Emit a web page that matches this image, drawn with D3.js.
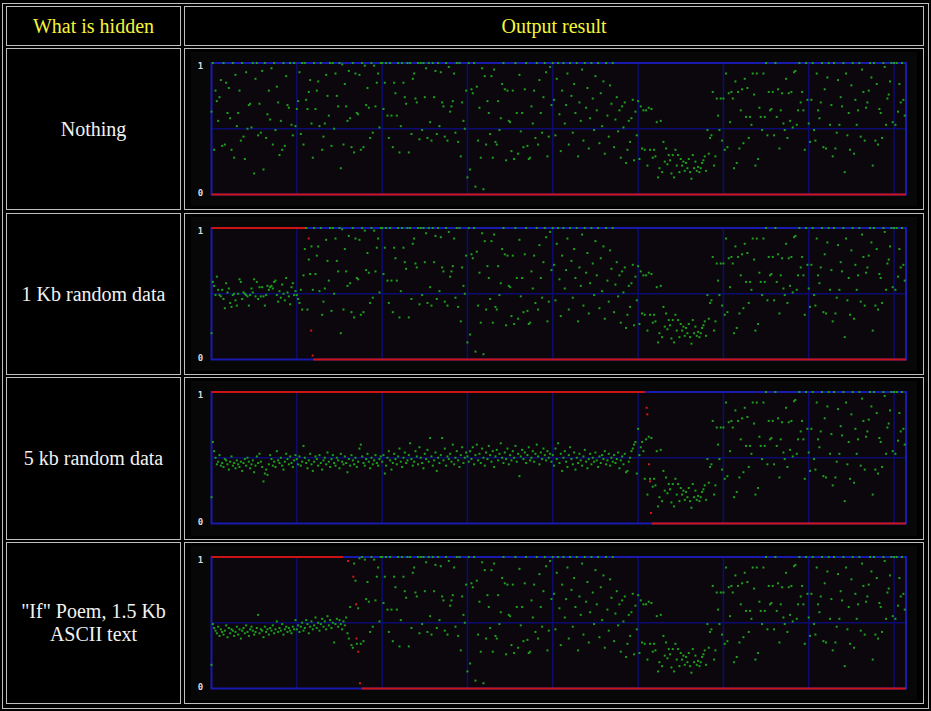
<!DOCTYPE html>
<html>
<head>
<meta charset="utf-8">
<script src="https://cdn.jsdelivr.net/npm/d3@7"></script>
<style>
  html, body { margin: 0; padding: 0; background: #000; }
  svg { display: block; }
</style>
</head>
<body>
<svg id="chart" width="931" height="711"></svg>
<script>
// table text
const headers = ["What is hidden", "Output result"];
const rowLabels = [["Nothing"], ["1 Kb random data"], ["5 kb random data"], ["\"If\" Poem, 1.5 Kb", "ASCII text"]];

// green dots: average LSB per 16-byte block (in %), 64 blocks per Kb
const dotsPerKb = 64;
const kbMax = 8.14;
const yTicks = [0, 1];

// the unmodified cover image (row "Nothing")
const coverLsb = [
  63,100,34,79,71,56,74,87,37,100,38,85,62,81,58,34,100,28,91,52,62,79,41,100,44,27,93,50,68,69,51,100,16,88,100,45,69,47,94,19,100,43,61,79,57,96,38,100,49,82,70,30,56,34,100,37,90,68,66,100,53,45,100,52,
  65,71,93,46,100,38,100,72,65,78,87,54,28,100,65,79,86,52,100,34,44,54,91,75,60,100,37,100,50,92,75,67,100,20,99,38,84,67,56,94,58,36,100,32,92,62,61,91,34,100,36,98,68,81,66,43,100,47,98,67,85,92,51,100,
  100,65,85,100,60,43,100,60,36,85,77,60,100,32,52,100,85,74,69,100,32,100,46,88,92,73,70,100,42,100,49,100,74,96,43,100,55,41,100,74,94,46,100,52,93,70,67,44,100,41,97,63,67,71,92,47,100,40,100,29,70,56,50,79,
  13,100,19,80,77,100,6,82,41,66,28,96,4,90,38,71,62,46,90,28,95,40,38,71,49,58,84,100,80,26,79,56,55,33,79,27,100,62,31,91,48,62,36,80,100,37,27,28,67,54,79,43,100,38,87,62,47,74,100,93,29,44,97,68,
  100,72,45,88,100,61,33,79,100,54,68,92,38,100,75,47,84,62,100,29,70,56,95,41,100,66,81,35,58,100,73,49,90,64,100,39,77,52,86,31,100,60,44,83,69,100,36,57,74,48,64,28,67,51,70,24,34,56,40,58,72,26,63,45,
  71,27,67,35,64,34,64,22,66,34,65,28,34,29,55,13,20,56,17,40,25,35,23,30,26,16,30,13,34,22,30,17,27,22,25,18,24,20,27,17,12,30,20,25,18,21,17,20,24,26,29,18,49,31,43,45,78,22,29,73,60,49,73,41,
  73,34,92,36,77,55,78,73,20,86,24,78,35,64,80,39,88,59,81,43,59,53,92,76,22,92,27,66,59,49,92,59,100,45,78,64,65,78,45,100,59,80,35,64,77,54,49,88,43,77,56,78,51,93,94,53,64,100,70,78,64,34,100,72,
  54,40,72,100,49,41,92,64,58,70,100,36,80,35,89,100,53,68,29,100,35,47,87,53,74,67,100,17,92,45,62,34,83,100,31,72,53,64,100,44,95,78,41,66,70,79,100,89,22,100,41,84,38,65,62,43,100,97,53,73,76,86,100,55,
  100,53,100,63,84,70,100,72,60
];

// start of the file after hiding data (rest of the file equals the cover)
const hidden1Kb = [
  20,59,56,49,63,53,49,48,53,46,39,58,51,54,43,40,49,50,45,41,50,61,59,46,51,50,49,48,41,49,54,51,61,48,59,46,55,48,55,48,41,49,56,53,55,56,54,59,60,49,44,52,47,57,50,45,62,51,48,42,55,58,49,52,
  49,46,43,53,38,64,84,100,38,76,65,86,53
];
const hidden5Kb = [
  20,62,55,50,45,47,52,44,46,43,49,48,45,41,47,51,44,46,42,48,45,43,47,40,46,49,44,50,47,42,45,48,39,44,51,46,53,47,43,32,38,41,37,45,52,49,44,47,43,55,48,46,50,44,41,47,53,49,45,51,46,43,48,52,
  49,45,51,44,47,59,50,46,42,48,53,45,40,47,51,49,44,52,46,41,48,50,45,54,47,43,49,52,46,44,50,48,42,53,47,45,51,46,39,49,44,52,48,45,50,43,47,57,60,51,46,44,49,53,47,42,50,45,48,52,46,44,49,51,
  47,52,38,44,50,55,48,41,46,53,49,45,51,57,47,43,50,54,46,48,52,61,49,44,47,55,51,45,58,50,46,42,53,49,56,47,65,51,44,48,54,40,50,46,52,65,48,57,44,51,49,53,47,60,45,50,55,48,43,52,58,46,50,54,
  51,47,55,49,58,45,52,60,48,53,46,57,50,44,54,49,59,52,47,55,43,51,56,48,53,61,50,46,54,49,57,45,52,48,55,50,59,47,53,36,51,56,49,54,46,52,58,48,50,55,47,53,60,51,45,54,49,57,52,48,55,50,53,47,
  52,44,57,49,61,46,53,40,50,55,47,43,52,58,49,45,54,41,50,46,53,48,44,51,56,47,42,49,53,45,50,47,54,48,43,51,46,52,49,55,45,48,53,44,50,47,52,46,49,54,42,48,51,45,53,39,40,47,50,55,57,60,62,38,
  72,52,58,62,55
];
const hiddenPoem = [
  18,49,46,44,42,47,40,45,43,41,44,48,39,46,42,45,44,40,43,47,41,45,38,44,46,42,48,43,40,45,47,44,41,43,46,56,42,45,44,39,47,43,45,41,46,44,48,42,45,51,43,46,44,49,41,45,47,43,46,44,42,47,45,52,
  45,48,43,47,50,44,46,52,49,42,47,51,45,48,54,46,50,44,49,53,47,51,45,55,48,52,46,50,35,49,53,47,52,49,45,51,48,54,42,38,62,33,31,95,82,34,61,99
];
const hiddenSets = [[], hidden1Kb, hidden5Kb, hiddenPoem];

// red curve: probability of embedding (1 until redOneUntil Kb, 0 from redZeroFrom Kb)
const redOneUntil = [0, 1.125, 5.08, 1.545];
const redZeroFrom = [0, 1.193, 5.16, 1.76];
const redDrops = [
  [],
  [[1.14, 0.92], [1.155, 0.65], [1.168, 0.22], [1.186, 0.03]],
  [[5.10, 0.88], [5.108, 0.83], [5.128, 0.45], [5.14, 0.32], [5.151, 0.08]],
  [[1.60, 0.97], [1.662, 0.85], [1.694, 0.64], [1.70, 0.38], [1.72, 0.28], [1.74, 0.04]]
];

// layout (table borders)
const W = 931, H = 711;
const colEdges = [[6, 180], [184, 923]];
const rowEdges = [[6, 45], [48, 209], [213, 374], [377, 539], [542, 703]];
const borderCol = "#bebebe";
const serif = "'Liberation Serif', 'Times New Roman', serif";

const svg = d3.select("#chart");
svg.append("rect").attr("width", W).attr("height", H).attr("fill", "#000");

// outer table border
svg.append("rect")
    .attr("x", 2.5).attr("y", 3.5)
    .attr("width", 926).attr("height", 705)
    .attr("fill", "none").attr("stroke", borderCol);

// cells
rowEdges.forEach(function(r) {
    colEdges.forEach(function(c) {
        svg.append("rect")
            .attr("x", c[0] + 0.5).attr("y", r[0] + 0.5)
            .attr("width", c[1] - c[0]).attr("height", r[1] - r[0])
            .attr("fill", "none").attr("stroke", borderCol);
    });
});

const colCenter = colEdges.map(c => (c[0] + c[1]) / 2);

// header row
headers.forEach(function(h, i) {
    svg.append("text")
        .attr("x", colCenter[i] + 0.5)
        .attr("y", (rowEdges[0][0] + rowEdges[0][1]) / 2 + 7)
        .attr("text-anchor", "middle")
        .style("font-family", serif)
        .style("font-size", "20px")
        .attr("fill", "#f6f63a")
        .text(h);
});

// row labels
rowLabels.forEach(function(lines, i) {
    var r = rowEdges[i + 1];
    var mid = (r[0] + r[1]) / 2;
    lines.forEach(function(t, k) {
        svg.append("text")
            .attr("x", colCenter[0] + 0.5)
            .attr("y", mid + 7 + (k - (lines.length - 1) / 2) * 23.4)
            .attr("text-anchor", "middle")
            .style("font-family", serif)
            .style("font-size", "20px")
            .attr("fill", "#f2f2f2")
            .text(t);
    });
});

// x scale shared by all charts (Kb of file)
const x = d3.scaleLinear().domain([0, kbMax]).range([211.5, 906]);
const gridKb = d3.range(1, Math.floor(kbMax) + 1);

rowLabels.forEach(function(_, i) {
    var r = rowEdges[i + 1];
    var top = r[0] + 15, bottom = r[0] + 146.5;
    var y = d3.scaleLinear().domain([0, 1]).range([bottom, top]);
    var g = svg.append("g");

    // picture background
    g.append("rect")
        .attr("x", 191).attr("y", r[0] + 4)
        .attr("width", 726).attr("height", r[1] - r[0] - 7)
        .attr("fill", "#070707");
    g.append("rect")
        .attr("x", x(0)).attr("y", top)
        .attr("width", x(kbMax) - x(0)).attr("height", bottom - top)
        .attr("fill", "#0b070c");

    // grid
    g.selectAll(".vgrid").data(gridKb).enter().append("line")
        .attr("x1", d => x(d)).attr("x2", d => x(d))
        .attr("y1", top).attr("y2", bottom)
        .attr("stroke", "#0c0c70").attr("stroke-width", 1.5);
    g.append("line")
        .attr("x1", x(0)).attr("x2", x(kbMax))
        .attr("y1", y(0.5)).attr("y2", y(0.5))
        .attr("stroke", "#0c0c70").attr("stroke-width", 1.5);

    // frame
    g.append("rect")
        .attr("x", x(0)).attr("y", top)
        .attr("width", x(kbMax) - x(0)).attr("height", bottom - top)
        .attr("fill", "none").attr("stroke", "#1a1aae").attr("stroke-width", 2);

    // y labels
    g.selectAll(".ylab").data(yTicks).enter().append("text")
        .attr("x", 200.5)
        .attr("y", d => y(d) + (d === 1 ? 5.5 : 1.5))
        .attr("text-anchor", "middle")
        .style("font-family", "'DejaVu Sans Mono', monospace")
        .style("font-size", "9px")
        .style("font-weight", "bold")
        .attr("fill", "#dcdcdc")
        .text(d => d);

    // red curve
    if (redOneUntil[i] > 0) {
        g.append("line")
            .attr("x1", x(0)).attr("x2", x(redOneUntil[i]))
            .attr("y1", y(1)).attr("y2", y(1))
            .attr("stroke", "#cc1414").attr("stroke-width", 2);
    }
    g.append("line")
        .attr("x1", x(redZeroFrom[i])).attr("x2", x(kbMax))
        .attr("y1", y(0)).attr("y2", y(0))
        .attr("stroke", "#cc1414").attr("stroke-width", 2);
    g.selectAll(".reddot").data(redDrops[i]).enter().append("rect")
        .attr("x", d => x(d[0]) - 1).attr("y", d => y(d[1]) - 1)
        .attr("width", 2).attr("height", 2)
        .attr("fill", "#d41818");

    // green dots
    var hid = hiddenSets[i];
    var lsb = coverLsb.map((v, k) => k < hid.length ? hid[k] : v);
    g.selectAll(".dot").data(lsb).enter().append("rect")
        .attr("x", (d, k) => x(k / dotsPerKb) - 1)
        .attr("y", d => y(d / 100) - 1)
        .attr("width", 2).attr("height", 2)
        .attr("fill", "#1ea01e");
});
</script>
</body>
</html>
